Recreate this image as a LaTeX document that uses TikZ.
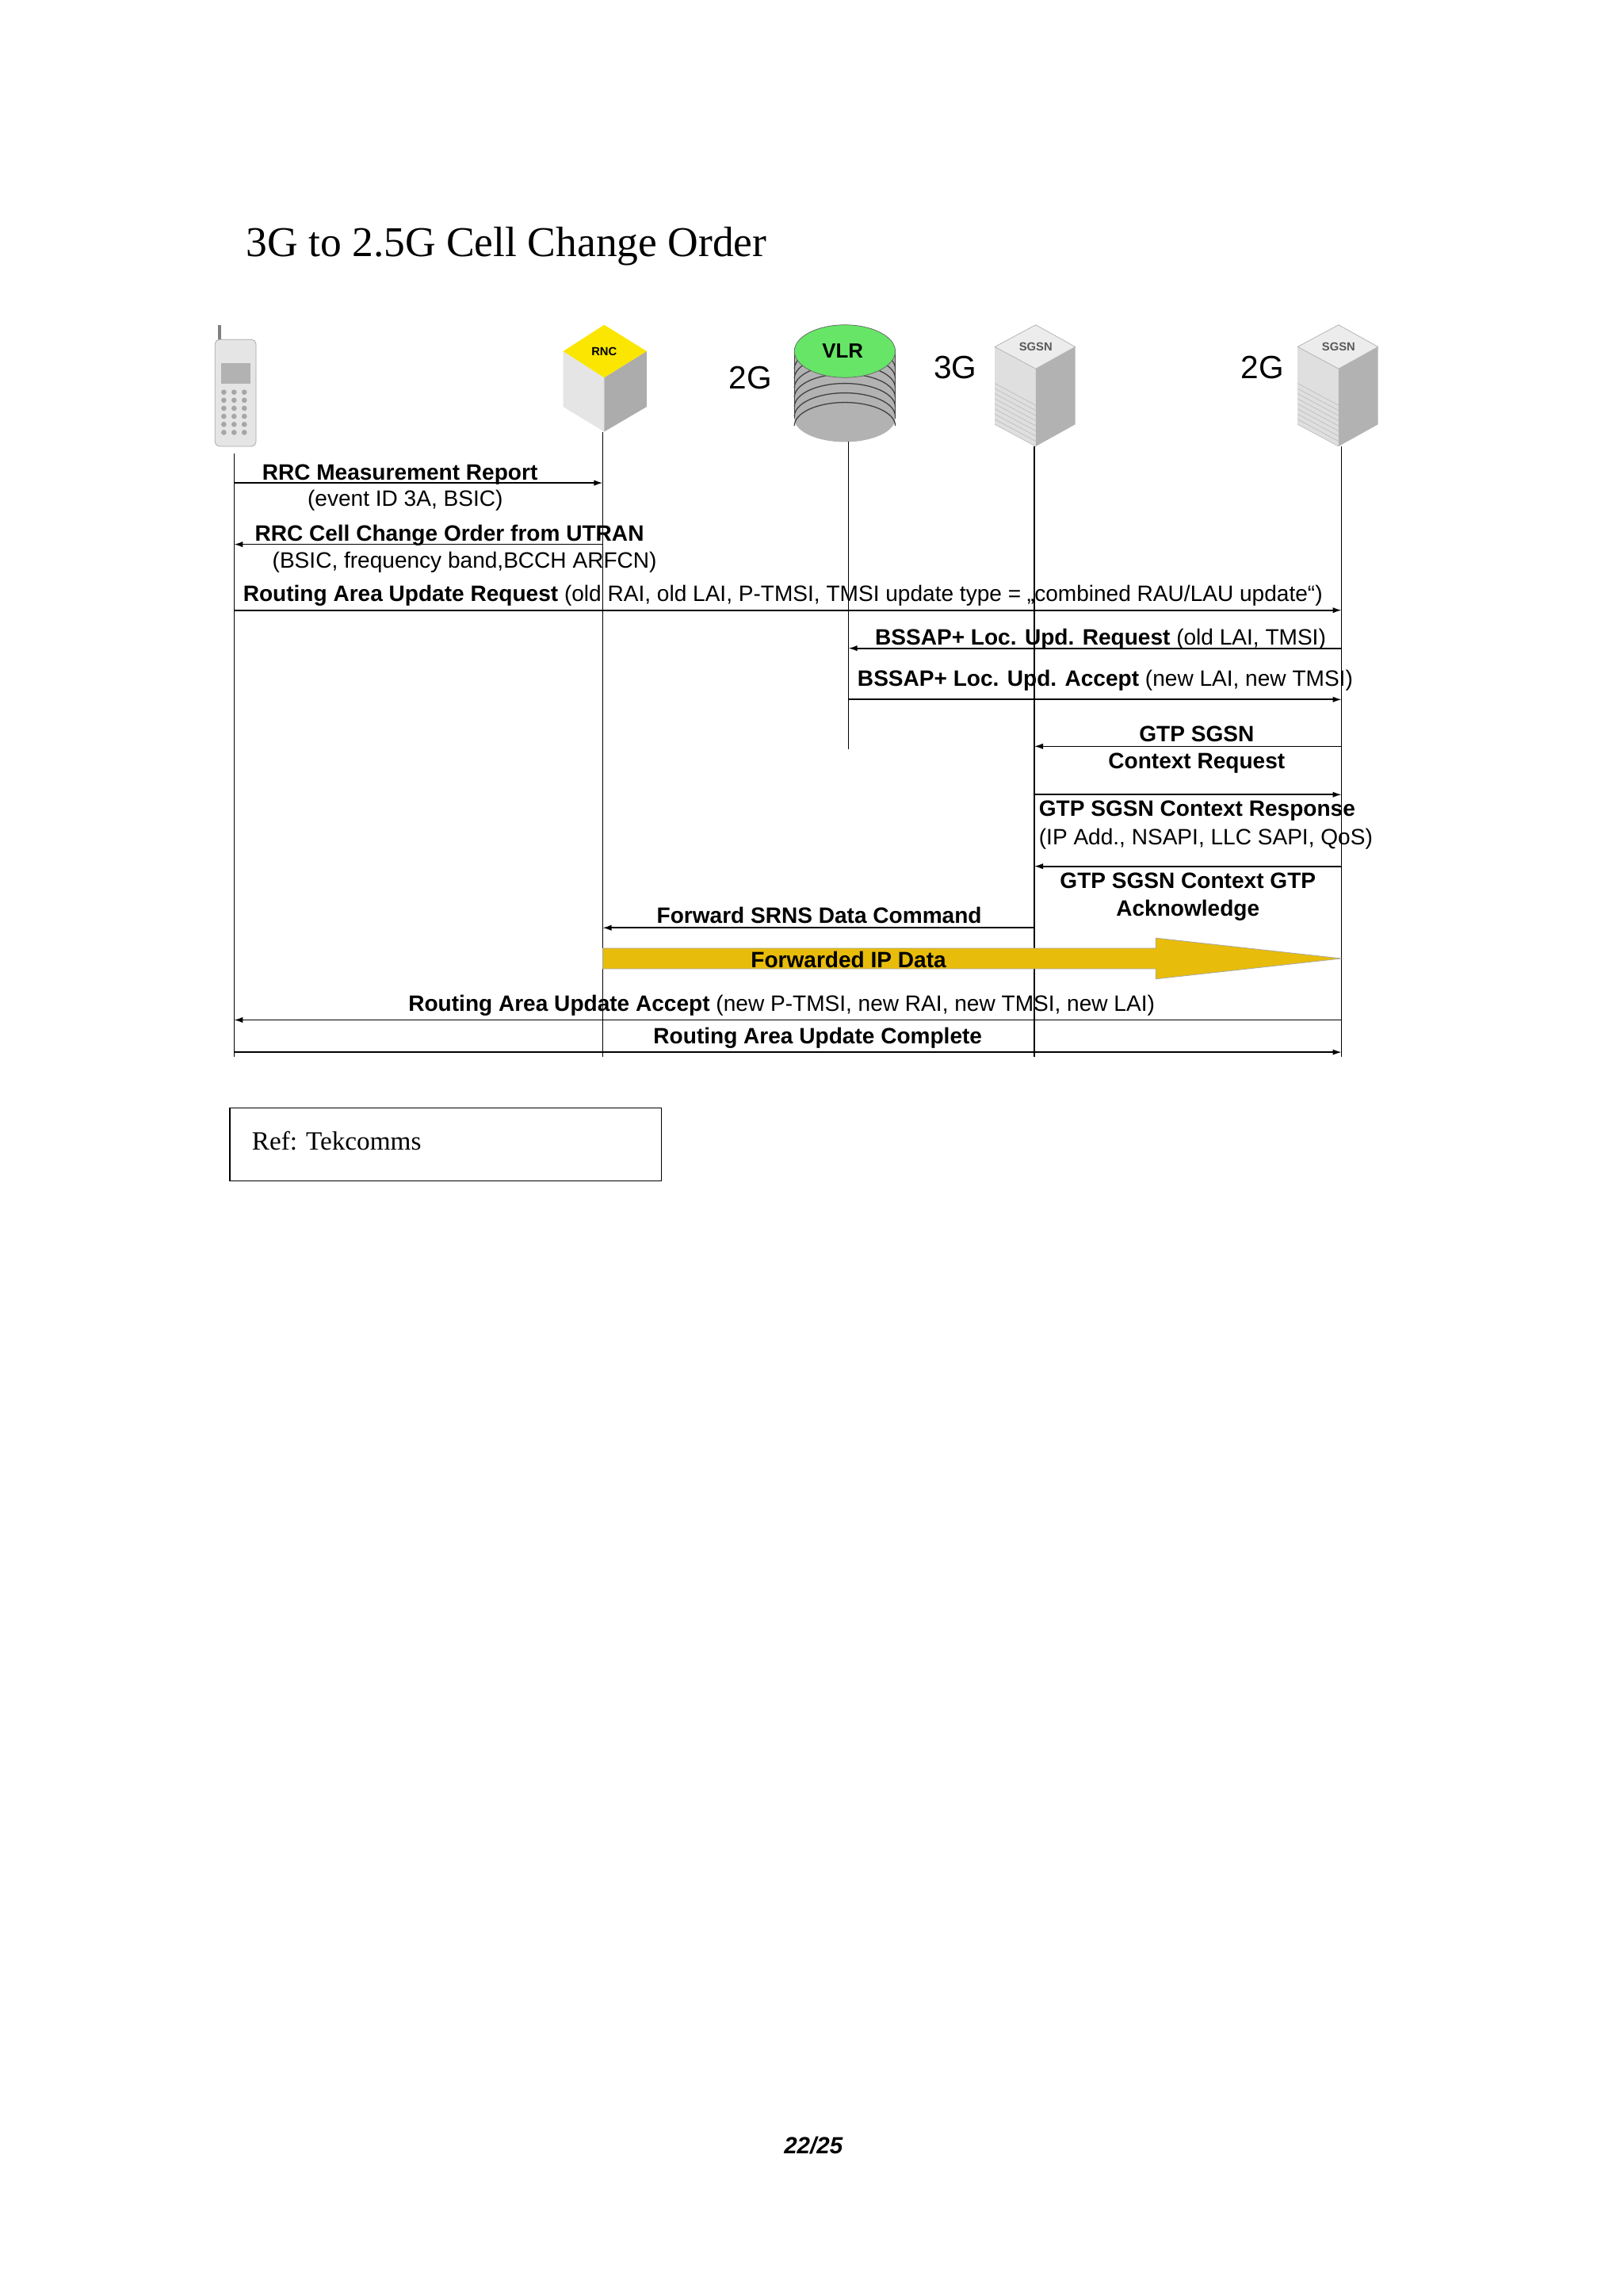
\documentclass[tikz,border=0pt]{standalone}
\usepackage{fontspec}
\setmainfont{Liberation Serif}
\setsansfont{Liberation Sans}
\usetikzlibrary{arrows.meta,calc}
\definecolor{gold}{RGB}{232,188,10}
\definecolor{rncy}{RGB}{250,230,0}
\begin{document}
\begin{tikzpicture}[x=1pt,y=-1pt,
  msg/.style={line width=0.9pt,-{Latex[length=6pt,width=4pt]}},
  life/.style={line width=0.8pt,black},
  lbl/.style={font=\sffamily\fontsize{15.2}{17}\selectfont,inner sep=0pt},
  gen/.style={font=\sffamily\fontsize{22}{24}\selectfont,inner sep=0pt},
  tiny/.style={font=\sffamily\bfseries\fontsize{8}{9}\selectfont,inner sep=0pt}]
\useasboundingbox (0,0) rectangle (1110,1569);
\fill[white] (0,0) rectangle (1110,1569);
\node[anchor=base west,inner sep=0pt,font=\fontsize{29}{32}\selectfont] (title) at (168,175) {3G to 2.5G Cell Change Order};
% lifeline coordinates
\coordinate (ue) at (160,310);
\coordinate (rnc) at (412,295);
\coordinate (vlr) at (580,302);
\coordinate (sg3) at (707,305);
\coordinate (sg2) at (917,305);
\coordinate (ueE) at (160,722);
\coordinate (rncE) at (412,722);
\coordinate (vlrE) at (580,512);
\coordinate (sg3E) at (707,722);
\coordinate (sg2E) at (917,722);
% phone
\draw[gray,line width=2pt] (150,222) -- (150,236);
\draw[fill=gray!20,draw=gray!70,rounded corners=3pt] (147,232) rectangle (175,305);
\fill[gray!60] (151,248) rectangle (171,262);
\foreach \r in {0,...,5}{\foreach \c in {0,1,2}{\fill[gray!70] (153+\c*7,268+\r*5.5) circle (1.8pt);}}
% RNC
\fill[gray!20] (385,240) -- (413,258) -- (413,295) -- (385,278) -- cycle;
\fill[gray!65] (442,240) -- (413,258) -- (413,295) -- (442,278) -- cycle;
\fill[rncy] (413,222) -- (442,240) -- (413,258) -- (385,240) -- cycle;
\node[tiny] (rnclbl) at (413,240) {RNC};
% VLR stack
\fill[gray!60] (543,240) rectangle (612,286);
\fill[gray!60] (577.5,286) ellipse (34.5 and 16);
\foreach \k in {0,...,6}{\draw[black!75,line width=0.7pt] (543,252+\k*6.5) arc (180:360:34.5 and 16);}
\draw[black!75] (543,240) -- (543,286) (612,240) -- (612,286);
\fill[green!55!white!90!black,draw=black!60] (577.5,240) ellipse (34.5 and 18);
\node[font=\sffamily\bfseries\fontsize{14}{16}\selectfont,inner sep=0pt] (vlrlbl) at (576,240) {VLR};
% SGSN boxes
\foreach \cx/\nm in {708/a,915/b}{
  \fill[gray!25] (\cx-28,237) -- (\cx,252) -- (\cx,305) -- (\cx-28,290) -- cycle;
  \fill[gray!60] (\cx+27,237) -- (\cx,252) -- (\cx,305) -- (\cx+27,290) -- cycle;
  \foreach \k in {0,...,8}{\draw[gray!50,line width=0.4pt] (\cx-28,262+\k*3.5) -- (\cx,277+\k*3.5);}
  \fill[gray!15,draw=gray!60] (\cx,222) -- (\cx+27,237) -- (\cx,252) -- (\cx-28,237) -- cycle;
  \node[tiny,text=gray!70!black] (sgsn\nm) at (\cx,237) {SGSN};
}
\node[gen] (g2a) at (513,258) {2G};
\node[gen] (g3) at (653,251) {3G};
\node[gen] (g2b) at (863,251) {2G};
% lifelines
\draw[life] (ue) -- (ueE);
\draw[life] (rnc) -- (rncE);
\draw[life] (vlr) -- (vlrE);
\draw[life] (sg3) -- (sg3E);
\draw[life] (sg2) -- (sg2E);
% rows
\coordinate (m1) at (0,330);
\coordinate (m2) at (0,372);
\coordinate (m3) at (0,417);
\coordinate (m4) at (0,443);
\coordinate (m5) at (0,478);
\coordinate (m6) at (0,510);
\coordinate (m7) at (0,543);
\coordinate (m8) at (0,592);
\coordinate (m9) at (0,634);
\coordinate (m11) at (0,697);
\coordinate (m12) at (0,719);
% yellow arrow
\fill[gold,draw=gray!70] (412,648) -- (790,648) -- (790,641) -- (917,655) -- (790,669) -- (790,662) -- (412,662) -- cycle;
\node[lbl,font=\sffamily\bfseries\fontsize{15.2}{17}\selectfont] (fip) at (580,656) {Forwarded IP Data};
\draw[msg] (ue |- m1) -- (rnc |- m1);
\draw[msg] (rnc |- m2) -- (ue |- m2);
\draw[msg] (ue |- m3) -- (sg2 |- m3);
\draw[msg] (sg2 |- m4) -- (vlr |- m4);
\draw[msg] (vlr |- m5) -- (sg2 |- m5);
\draw[msg] (sg2 |- m6) -- (sg3 |- m6);
\draw[msg] (sg3 |- m7) -- (sg2 |- m7);
\draw[msg] (sg2 |- m8) -- (sg3 |- m8);
\draw[msg] (sg3 |- m9) -- (rnc |- m9);
\draw[msg] (sg2 |- m11) -- (ue |- m11);
\draw[msg] (ue |- m12) -- (sg2 |- m12);
% labels
\node[lbl,anchor=base west] (t1) at (179,328) {\bfseries RRC Measurement Report};
\node[lbl,anchor=base] (t1b) at (277,346) {(event ID 3A, BSIC)};
\node[lbl,anchor=base west] (t2) at (174,370) {\bfseries RRC Cell Change Order from UTRAN};
\node[lbl,anchor=base west] (t2b) at (186,388) {(BSIC, frequency band,BCCH ARFCN)};
\node[lbl,anchor=base west] (t3) at (166,411) {\bfseries Routing Area Update Request \mdseries(old RAI, old LAI, P-TMSI, TMSI update type = „combined RAU/LAU update“)};
\node[lbl,anchor=base west] (t4) at (598,441) {\bfseries BSSAP+ Loc. Upd. Request \mdseries(old LAI, TMSI)};
\node[lbl,anchor=base west] (t5) at (586,469) {\bfseries BSSAP+ Loc. Upd. Accept \mdseries(new LAI, new TMSI)};
\node[lbl,anchor=base] (t6) at (818,507) {\bfseries GTP SGSN};
\node[lbl,anchor=base] (t6b) at (818,525) {\bfseries Context Request};
\node[lbl,anchor=base west] (t7) at (710,558) {\bfseries GTP SGSN Context Response};
\node[lbl,anchor=base west] (t7b) at (710,577) {(IP Add., NSAPI, LLC SAPI, QoS)};
\node[lbl,anchor=base] (t8) at (812,607) {\bfseries GTP SGSN Context GTP};
\node[lbl,anchor=base] (t8b) at (812,626) {\bfseries Acknowledge};
\node[lbl,anchor=base] (t9) at (560,631) {\bfseries Forward SRNS Data Command};
\node[lbl,anchor=base west] (t11) at (279,691) {\bfseries Routing Area Update Accept \mdseries(new P-TMSI, new RAI, new TMSI, new LAI)};
\node[lbl,anchor=base] (t12) at (559,713) {\bfseries Routing Area Update Complete};
% ref box
\draw[line width=0.8pt] (157,757) rectangle (452,807);
\node[anchor=base west,inner sep=0pt,font=\fontsize{18}{20}\selectfont] (ref) at (172,786) {Ref: Tekcomms};
\node[inner sep=0pt,font=\sffamily\bfseries\itshape\fontsize{16}{18}\selectfont] (pg) at (556,1466) {22/25};
\end{tikzpicture}
\end{document}
